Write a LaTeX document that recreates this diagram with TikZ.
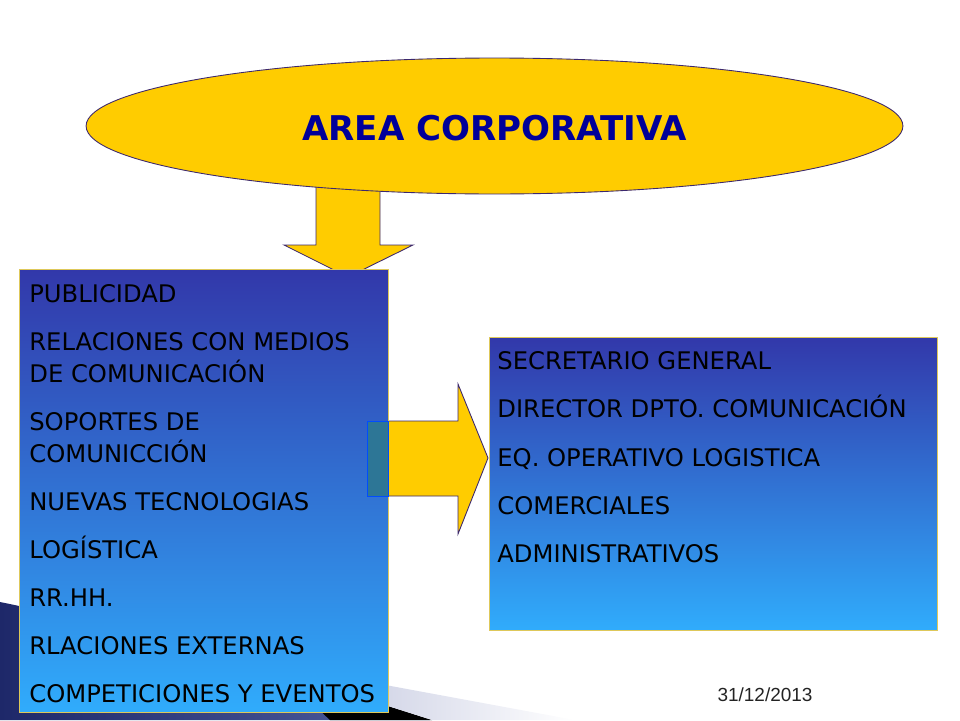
\documentclass[tikz,border=0pt]{standalone}
\usepackage{fontspec}
\setmainfont{DejaVu Sans}
\newfontfamily\datefont{Liberation Sans}
\usetikzlibrary{shapes.geometric}
\definecolor{corpyellow}{RGB}{255,204,0}
\definecolor{titleblue}{RGB}{0,0,153}
\definecolor{boxtop}{RGB}{50,56,170}
\definecolor{boxbottom}{RGB}{48,172,252}
\definecolor{boxedge}{RGB}{222,200,90}
\definecolor{arrowedge}{RGB}{60,40,110}
\definecolor{navy}{RGB}{30,40,105}
\definecolor{navylight}{RGB}{80,95,160}
\definecolor{lavender}{RGB}{212,215,232}
\definecolor{overlap}{RGB}{45,118,150}
\definecolor{dategray}{RGB}{35,35,35}

\begin{document}
\begin{tikzpicture}[x=0.02cm, y=-0.02cm,
    itembox/.style={draw=boxedge, line width=0.6pt, top color=boxtop, bottom color=boxbottom,
        anchor=north west, inner sep=0pt},
    item/.style={anchor=base west, align=left, inner sep=0pt,
        font=\fontsize{13.8}{18.1}\selectfont},
    blockarrow/.style={fill=corpyellow, draw=arrowedge, line width=0.5pt, line join=miter}]
\useasboundingbox (0,0) rectangle (960,720);

% Corner swoosh
\shade[left color=navy, right color=navylight] (0,602) .. controls (140,630) and (300,690) .. (430,720) -- (0,720) -- cycle;
\fill[black] (300,692) -- (388,706) -- (432,720) -- (330,720) -- cycle;
\shade[left color=lavender, right color=white] (380,684) -- (575,720) -- (432,720) -- (388,706) -- cycle;

% Arrow down
\coordinate (dtip) at (348,277);
\draw[blockarrow] (316,170) -- (316,245) -- (284,245) -- (dtip) -- (413,245) -- (380,245) -- (380,170);

% Title
\node[ellipse, draw=arrowedge, line width=0.5pt, fill=corpyellow, minimum width=16.34cm,
    minimum height=2.72cm, inner sep=0pt] (area) at (494.5,126) {};
\node[font=\bfseries\fontsize{19.4}{23}\selectfont, text=titleblue] (title) at (494.5,128) {AREA CORPORATIVA};

% Arrow right
\coordinate (rtip) at (488,458);
\draw[blockarrow] (367,421) -- (458,421) -- (458,384) -- (rtip) -- (458,534) -- (458,496) -- (367,496) -- cycle;

% Boxes
\node[itembox, minimum width=7.38cm, minimum height=8.86cm] (areas) at (19,269) {};
\node[itembox, minimum width=8.96cm, minimum height=5.86cm] (cargos) at (489,337) {};
\draw[draw=blue!70!cyan, line width=0.5pt, fill=overlap] (367,421) rectangle (388,496);

% Areas (two-line items sit on their last baseline)
\foreach \n/\y/\txt in {a1/302/PUBLICIDAD, a2/382/{RELACIONES CON MEDIOS\\DE COMUNICACIÓN},
    a3/462/{SOPORTES DE\\COMUNICCIÓN}, a4/510/NUEVAS TECNOLOGIAS, a5/558/LOGÍSTICA,
    a6/606/RR.HH., a7/654/RLACIONES EXTERNAS, a8/702/COMPETICIONES Y EVENTOS} {
    \node[item] (\n) at (29,\y) {\txt};
}

% Cargos
\foreach \n/\y/\txt in {c1/369/SECRETARIO GENERAL, c2/417/DIRECTOR DPTO. COMUNICACIÓN,
    c3/466/EQ. OPERATIVO LOGISTICA, c4/514/COMERCIALES, c5/562/ADMINISTRATIVOS} {
    \node[item] (\n) at (497,\y) {\txt};
}

% Date
\node[font=\datefont\fontsize{10.8}{13}\selectfont, text=dategray] (fecha) at (765,695) {31/12/2013};
\end{tikzpicture}
\end{document}
